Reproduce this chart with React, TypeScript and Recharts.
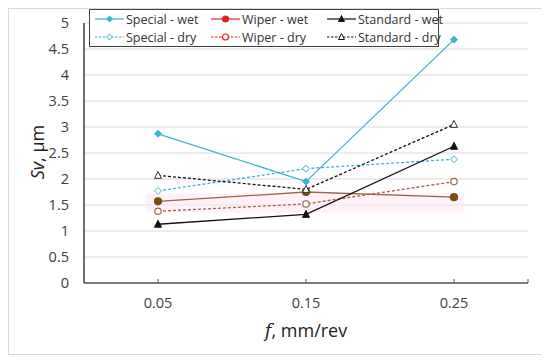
import React from 'react'
import { LineChart, Line, XAxis, YAxis, CartesianGrid, ReferenceArea } from 'recharts'

// posuw f, mm/rev
const feeds = [0.05, 0.15, 0.25]
const yTicks = [0, 0.5, 1, 1.5, 2, 2.5, 3, 3.5, 4, 4.5, 5]
const xTicks = [0.05, 0.15, 0.25, 0.3]

// Sv, μm
const specialWet = [2.87, 1.95, 4.68]
const specialDry = [1.77, 2.2, 2.38]
const wiperWet = [1.57, 1.75, 1.65]
const wiperDry = [1.38, 1.52, 1.95]
const standardWet = [1.13, 1.32, 2.63]
const standardDry = [2.07, 1.8, 3.05]

const chartData = feeds.map((f, i) => ({
	f,
	specialWet: specialWet[i],
	specialDry: specialDry[i],
	wiperWet: wiperWet[i],
	wiperDry: wiperDry[i],
	standardWet: standardWet[i],
	standardDry: standardDry[i],
}))

const CYAN = '#3ab4d0'
const BROWN = '#9c6448'
const BROWN_DARK = '#7a4c12'
const RED = '#e0221e'
const BLACK = '#111111'

type Shape = 'diamond' | 'circle' | 'triangle'

const marker = (shape: Shape, cx: number, cy: number, fill: string, stroke: string, size = 3.5) => {
	if (shape === 'diamond') {
		return <polygon points={`${cx},${cy - size} ${cx + size},${cy} ${cx},${cy + size} ${cx - size},${cy}`} fill={fill} stroke={stroke} strokeWidth={1} />
	}
	if (shape === 'circle') {
		return <circle cx={cx} cy={cy} r={size} fill={fill} stroke={stroke} strokeWidth={1.2} />
	}
	return <polygon points={`${cx},${cy - size - 0.5} ${cx + size},${cy + size - 0.5} ${cx - size},${cy + size - 0.5}`} fill={fill} stroke={stroke} strokeWidth={1} />
}

const makeDot = (shape: Shape, fill: string, stroke: string, size?: number) => (props: any) => {
	const { cx, cy, index } = props
	return <g key={`dot-${shape}-${fill}-${index}`}>{marker(shape, cx, cy, fill, stroke, size)}</g>
}

const XTick = (props: any) => {
	const { x, y, payload } = props
	return (
		<g>
			<line x1={x} x2={x} y1={y - 4} y2={y} stroke='#595959' strokeWidth={1} />
			{payload.value !== 0.3 && (
				<text x={x} y={y + 25} textAnchor='middle' fontSize={14.5} fill='#404040' fontFamily='Open Sans'>
					{payload.value.toFixed(2)}
				</text>
			)}
		</g>
	)
}

const legendItems = [
	{ label: 'Special - wet', color: CYAN, dash: false, shape: 'diamond' as Shape, fill: CYAN },
	{ label: 'Wiper - wet', color: RED, dash: false, shape: 'circle' as Shape, fill: RED },
	{ label: 'Standard - wet', color: BLACK, dash: false, shape: 'triangle' as Shape, fill: BLACK },
	{ label: 'Special - dry', color: CYAN, dash: true, shape: 'diamond' as Shape, fill: '#ffffff' },
	{ label: 'Wiper - dry', color: RED, dash: true, shape: 'circle' as Shape, fill: '#ffffff' },
	{ label: 'Standard - dry', color: BLACK, dash: true, shape: 'triangle' as Shape, fill: '#ffffff' },
]

const ChartLegend = () => (
	<div
		style={{
			position: 'absolute',
			left: 80,
			top: 0,
			width: 348,
			height: 36,
			border: '1px solid #404040',
			background: '#ffffff',
			display: 'flex',
			flexWrap: 'wrap',
		}}
	>
		{legendItems.map((item) => (
			<div key={item.label} style={{ width: 116, height: 18, display: 'flex', alignItems: 'center', paddingLeft: 5, boxSizing: 'border-box' }}>
				<svg width={29} height={12} style={{ flexShrink: 0 }}>
					<line x1={0} x2={29} y1={6} y2={6} stroke={item.color} strokeWidth={1.2} strokeDasharray={item.dash ? '2.5 1.5' : undefined} />
					{marker(item.shape, 14.5, 6, item.fill, item.color, 3)}
				</svg>
				<span style={{ fontSize: 12.5, color: '#333', marginLeft: 2, whiteSpace: 'nowrap', fontFamily: 'Open Sans' }}>{item.label}</span>
			</div>
		))}
	</div>
)

const App: React.FC = () => {
	return (
		<div style={{ position: 'relative', width: 533, height: 345, border: '1px solid #d9d9d9', fontFamily: 'Open Sans', background: '#fff' }}>
			<LineChart width={531} height={343} data={chartData} margin={{ top: 14, right: 12, left: 0, bottom: 0 }}>
				<CartesianGrid vertical={false} stroke='#d9d9d9' strokeWidth={1} />
				<ReferenceArea x1={0.042} x2={0.257} y1={1.35} y2={1.72} fill='#fde9f3' fillOpacity={0.6} stroke='none' />
				<XAxis
					type='number'
					dataKey='f'
					domain={[0, 0.3]}
					ticks={xTicks}
					tick={<XTick />}
					tickLine={false}
					tickSize={0}
					tickMargin={0}
					height={69}
					stroke='#595959'
					strokeWidth={1.3}
					interval={0}
				/>
				<YAxis
					domain={[0, 5]}
					ticks={yTicks}
					width={75}
					tickLine={false}
					tickSize={0}
					tickMargin={15}
					stroke='#404040'
					strokeWidth={1.5}
					tick={{ fontSize: 14.5, fill: '#404040', fontFamily: 'Open Sans' }}
					interval={0}
				/>
				<Line dataKey='specialWet' stroke={CYAN} strokeWidth={1.3} dot={makeDot('diamond', CYAN, CYAN)} isAnimationActive={false} />
				<Line dataKey='specialDry' stroke={CYAN} strokeWidth={1.3} strokeDasharray='3 2' dot={makeDot('diamond', '#ffffff', CYAN)} isAnimationActive={false} />
				<Line dataKey='wiperWet' stroke={BROWN} strokeWidth={1.3} dot={makeDot('circle', BROWN_DARK, BROWN_DARK, 3.5)} isAnimationActive={false} />
				<Line dataKey='wiperDry' stroke={BROWN} strokeWidth={1.3} strokeDasharray='3 2' dot={makeDot('circle', '#ffffff', BROWN, 3.2)} isAnimationActive={false} />
				<Line dataKey='standardWet' stroke={BLACK} strokeWidth={1.3} dot={makeDot('triangle', BLACK, BLACK)} isAnimationActive={false} />
				<Line dataKey='standardDry' stroke={BLACK} strokeWidth={1.3} strokeDasharray='3 2' dot={makeDot('triangle', '#ffffff', '#333')} isAnimationActive={false} />
			</LineChart>
			<ChartLegend />
			<div
				style={{
					position: 'absolute',
					left: 28 - 40,
					top: 143 - 12,
					width: 80,
					textAlign: 'center',
					transform: 'rotate(-90deg)',
					fontSize: 18,
					color: '#222',
					lineHeight: '24px',
				}}
			>
				<i>Sv</i>, μm
			</div>
			<div style={{ position: 'absolute', left: 297 - 60, top: 321 - 12, width: 120, textAlign: 'center', fontSize: 18, color: '#222', lineHeight: '24px' }}>
				<i style={{ fontFamily: 'DejaVu Serif' }}>f</i>, mm/rev
			</div>
		</div>
	)
}

export default App
